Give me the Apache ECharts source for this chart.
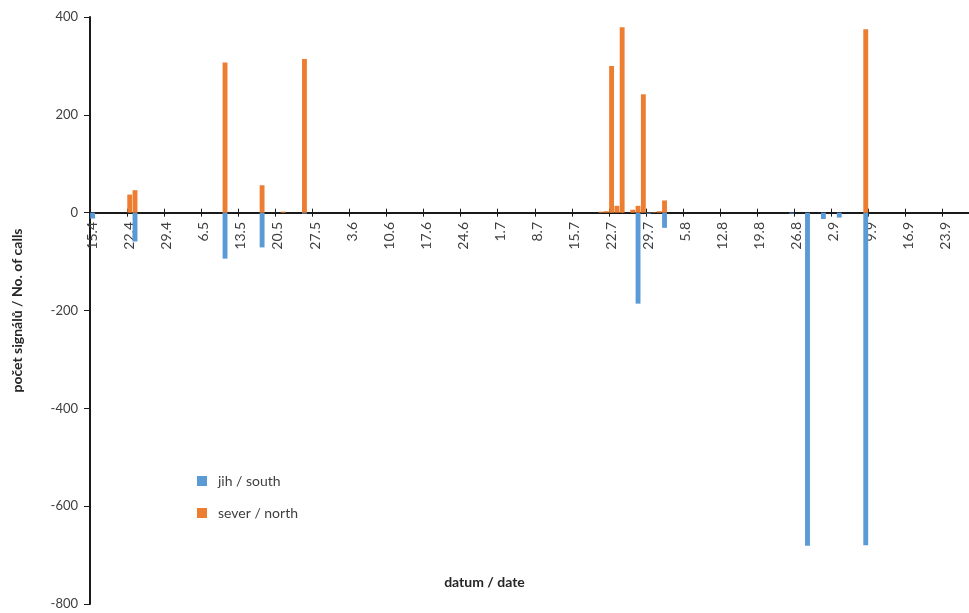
<!DOCTYPE html>
<html>
<head>
<meta charset="utf-8">
<script src="https://cdn.jsdelivr.net/npm/echarts@6/dist/echarts.min.js"></script>
<style>
html,body{margin:0;padding:0;background:#fff;}
#c{width:969px;height:613px;}
</style>
</head>
<body>
<div id="c"></div>
<script>
// Daily categories 15.4 – 27.9 (day.month)
const startDay = 15, startMonth = 4, dayCount = 166;
const monthLengths = {4:30,5:31,6:30,7:31,8:31,9:30};
const categories = [];
(function(){ let d = startDay, m = startMonth;
  for (let i = 0; i < dayCount; i++) { categories.push(d + '.' + m); d++; if (d > monthLengths[m]) { d = 1; m++; } } })();

// sever / north (positive)
const northDates  = ['22.4','23.4','10.5','17.5','21.5','25.5','20.7','21.7','22.7','23.7','24.7','26.7','27.7','28.7','30.7','31.7','1.8','8.9'];
const northValues = [37, 46, 307, 56, 2, 314, 2, 3, 300, 14, 379, 6, 14, 242, 1, 3, 25, 375];

// jih / south (negative)
const southDates  = ['15.4','23.4','10.5','17.5','25.5','27.7','29.7','1.8','25.8','28.8','31.8','3.9','8.9'];
const southValues = [-12, -59, -94, -71, -2, -186, -2, -31, -2, -681, -13, -10, -680];

const yTicks = [-800, -600, -400, -200, 0, 200, 400];

function build(dates, values){
  const arr = categories.map(() => 0);
  dates.forEach((d, k) => { const i = categories.indexOf(d); if (i >= 0) arr[i] = values[k]; });
  return arr;
}
const south = build(southDates, southValues);
const north = build(northDates, northValues);

const font = 'Lato, "Open Sans", sans-serif';
const chart = echarts.init(document.getElementById('c'), null, {renderer: 'canvas'});
chart.setOption({
  animation: false,
  textStyle: {fontFamily: font},
  grid: [
    {left: 90, right: 0, top: 17, bottom: 9, containLabel: false, outerBoundsMode: 'none'},
    // label band: its bottom edge lies on the zero line of the main grid
    {left: 90, right: 0, top: 17, height: 196, containLabel: false, outerBoundsMode: 'none'}
  ],
  legend: {
    orient: 'vertical', left: 192, top: 469,
    itemWidth: 10, itemHeight: 10, itemGap: 18,
    icon: 'rect',
    textStyle: {fontFamily: font, fontSize: 14, color: '#404040', padding: [0,0,0,6]},
    data: ['jih / south', 'sever / north']
  },
  graphic: [{
    type: 'text', left: 'center', top: 575,
    style: {text: 'datum / date', font: 'bold 14px ' + font, fill: '#262626'}
  }],
  xAxis: [{
    gridIndex: 0, type: 'category', data: categories, position: 'bottom',
    boundaryGap: true,
    axisLine: {onZero: true, onZeroAxisIndex: 0, lineStyle: {color: '#1a1a1a', width: 2}},
    axisTick: {show: true, interval: 6, length: 4, lineStyle: {color: '#1a1a1a', width: 1}},
    axisLabel: {show: false},
    splitLine: {show: false}
  }, {
    gridIndex: 0, type: 'category', data: categories, position: 'top',
    boundaryGap: true,
    axisLine: {onZero: true, onZeroAxisIndex: 0, show: false},
    axisTick: {show: true, interval: 6, length: 4, lineStyle: {color: '#1a1a1a', width: 1}},
    axisLabel: {show: false},
    splitLine: {show: false}
  }, {
    gridIndex: 1, type: 'category', data: categories, position: 'bottom',
    boundaryGap: true,
    axisLine: {show: false, onZero: false},
    axisTick: {show: false},
    axisLabel: {interval: 6, rotate: 90, margin: 9, fontSize: 14, color: '#404040', fontFamily: font},
    splitLine: {show: false}
  }],
  yAxis: [{
    gridIndex: 0,
    type: 'value', min: yTicks[0], max: yTicks[yTicks.length-1], interval: 200,
    name: 'počet signálů / No. of calls', nameLocation: 'middle', nameGap: 66,
    nameTextStyle: {fontFamily: font, fontWeight: 'bold', fontSize: 14, color: '#262626'},
    axisLine: {show: true, lineStyle: {color: '#1a1a1a', width: 2}},
    axisTick: {show: true, length: 6, lineStyle: {color: '#1a1a1a'}},
    axisLabel: {fontSize: 13, color: '#404040', margin: 12, fontFamily: font},
    splitLine: {show: false}
  }, {
    gridIndex: 1, type: 'value', min: 0, max: 400, show: false
  }],
  series: [{
    name: 'jih / south', type: 'bar', data: south, xAxisIndex: 0, yAxisIndex: 0,
    itemStyle: {color: '#5B9BD5'},
    barCategoryGap: '8%', barGap: '-100%'
  }, {
    name: 'sever / north', type: 'bar', data: north, xAxisIndex: 0, yAxisIndex: 0,
    itemStyle: {color: '#ED7D31'},
    barCategoryGap: '8%', barGap: '-100%'
  }]
});
</script>
</body>
</html>
